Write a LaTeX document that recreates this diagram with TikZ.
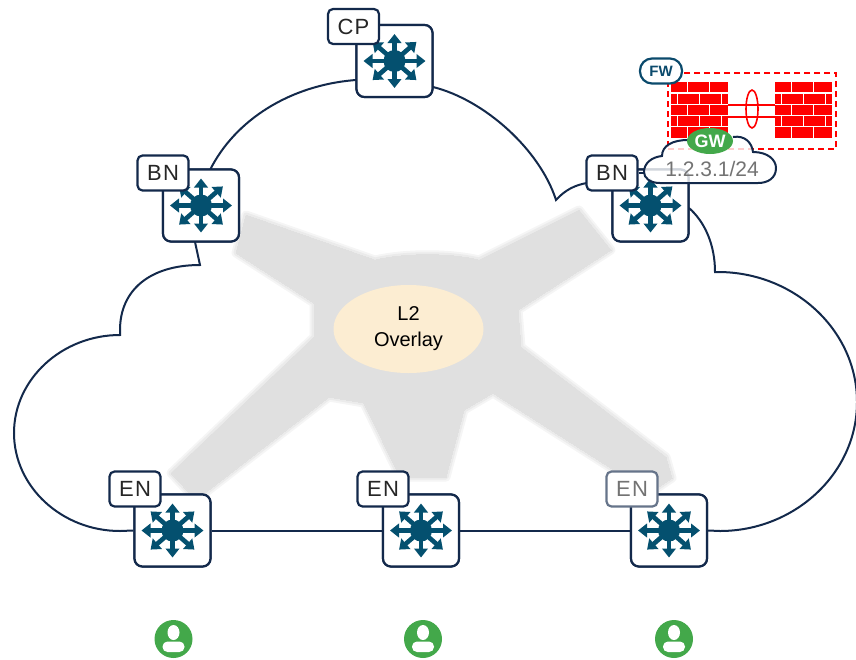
\documentclass[tikz,border=0pt]{standalone}
\usepackage{fontspec}
\setmainfont{Liberation Sans}
\newfontfamily\tagfont[LetterSpace=6]{Liberation Sans}
\usetikzlibrary{arrows.meta,shapes.geometric}

\definecolor{navy}{HTML}{13294B}
\definecolor{switchblue}{HTML}{04506F}
\definecolor{fwteal}{HTML}{0B4A6C}
\definecolor{gwgreen}{HTML}{43A84A}
\definecolor{l2fill}{HTML}{FCEDD2}
\definecolor{fwred}{HTML}{FF0000}

\begin{document}
\begin{tikzpicture}[x=1pt, y=-1pt,
    cloudline/.style={draw=navy, line width=2pt},
    switchbox/.style={draw=navy, line width=2.2pt, fill=white,
                      rounded corners=8pt, minimum width=76pt,
                      minimum height=72pt, inner sep=0pt},
    tagbox/.style={draw=navy, line width=2.2pt, fill=white,
                   rounded corners=5pt, minimum width=51pt,
                   minimum height=35pt, inner sep=0pt, text=black!85,
                   font=\tagfont\fontsize{22}{24}\selectfont},
    spoke/.style={draw=switchblue, line width=4.6pt,
                  -{Triangle[length=9pt,width=13.5pt]}},
    l2bubble/.style={ellipse, fill=l2fill, minimum width=150pt,
                     minimum height=88pt, align=center,
                     font=\fontsize{20}{26}\selectfont},
    wall/.style={fill=fwred, minimum width=57pt, minimum height=56pt,
                 inner sep=0pt},
    mortar/.style={draw=white, line width=1.3pt},
    fwlink/.style={draw=fwred, line width=1.6pt},
    fwzone/.style={draw=fwred, line width=2.2pt,
                   dash pattern=on 6pt off 4pt,
                   minimum width=168pt, minimum height=76pt},
    fwtag/.style={draw=fwteal, line width=2.2pt, fill=white,
                  rounded corners=12pt, minimum width=42pt,
                  minimum height=25pt, inner sep=0pt, text=fwteal,
                  font=\bfseries\fontsize{15}{15}\selectfont},
    gwtag/.style={ellipse, fill=gwgreen, minimum width=46pt,
                  minimum height=26pt, inner sep=0pt, text=white,
                  font=\bfseries\fontsize{18}{18}\selectfont},
    addr/.style={minimum width=136pt, inner sep=0pt, text=black!55,
                 font=\fontsize{21}{21}\selectfont},
    user/.style={circle, fill=gwgreen, minimum size=38pt, inner sep=0pt}
  ]
    \useasboundingbox (0,0) rectangle (856,659);

    % overlay star behind the fabric, soft edge
    \foreach \w/\c in {9/8,5/16,0/24}
      \filldraw[draw=gray!\c, fill=gray!\c, line width=\w, line join=round]
        (246,215) -- (375,260) .. controls (405,253) and (450,253) .. (479,260)
        -- (579,210) -- (611,250) -- (518,310) -- (521,347) -- (666,457)
        -- (672,478) -- (650,493) -- (493,393) -- (464,410) -- (446,477)
        -- (400,477) -- (364,403) -- (329,397) -- (196,500) -- (171,473)
        -- (314,337) -- (314,303) -- (236,253) -- cycle;

    \node[l2bubble] (l2) at (408.5,329) {L2\\Overlay};

    % fabric cloud
    \node[switchbox] (cp)  at (394.5,61)  {};
    \node[switchbox] (bnl) at (201,205.5) {};
    \node[switchbox] (bnr) at (650.5,205.5) {};
    \node[switchbox] (enl) at (172.5,530.5) {};
    \node[switchbox] (enm) at (421,530.5) {};
    \node[switchbox] (enr) at (669,530.5) {};

    \draw[cloudline] (enl.west) -- (120,531)
      .. controls (62,531) and (14,487) .. (14,433)
      .. controls (14,379) and (62,335) .. (120,335) -- (120,330)
      .. controls (120,290) and (150,265) .. (200,265) -- (195,242);
    \draw[cloudline] (210,170) .. controls (235,120) and (290,85) .. (356,80);
    \draw[cloudline] (433,87) .. controls (485,100) and (540,150) .. (556,200)
      .. controls (565,190) and (575,185) .. (587,183);
    \draw[cloudline] (689,208) .. controls (705,222) and (715,245) .. (715,272)
      -- (718,272) .. controls (794,272) and (857,330) .. (857,402)
      .. controls (857,474) and (794,531) .. (720,531) -- (enr.east);
    \draw[cloudline] (enl.east) -- (enm.west);
    \draw[cloudline] (enm.east) -- (enr.west);

    % boxes again on top of the outline ends
    \foreach \s in {cp,bnl,bnr,enl,enm,enr}
      \node[switchbox] at (\s.center) {};
    \foreach \s in {cp,bnl,bnr,enl,enm,enr}{
      \foreach \a in {0,45,...,315}
        \draw[spoke] (\s.center) -- ++(\a:31 and 27);
      \fill[switchblue] (\s.center) circle (11);
    }

    \node[tagbox] (cptag)  at (353.5,26.5) {CP};
    \node[tagbox] (bnltag) at (163,173)   {BN};
    \node[tagbox] (bnrtag) at (612,173)   {BN};
    \node[tagbox] (enltag) at (135,489)   {EN};
    \node[tagbox] (enmtag) at (383,489)   {EN};
    \node[tagbox, draw=navy!65, text=black!55] (enrtag) at (632,489) {EN};

    % firewall pair
    \node[fwzone] (fwarea) at (752,111) {};
    \node[wall] (fwl) at (699.5,110) {};
    \node[wall] (fwr) at (803.5,110) {};
    \foreach \w in {fwl,fwr}{
      \foreach \r in {1,2,3,4}
        \draw[mortar] ([shift={(0,\r*11.2)}]\w.north west) -- ++(57,0);
      \foreach \r/\j in {0/17,0/39,1/7,1/29,1/51,2/17,2/39,3/7,3/29,3/51,4/17,4/39}
        \draw[mortar] ([shift={(\j,\r*11.2)}]\w.north west) -- ++(0,11.2);
    }
    \draw[fwlink] ([shift={(0,-5)}]fwl.east) -- ([shift={(0,-5)}]fwr.west);
    \draw[fwlink] ([shift={(0,7)}]fwl.east) -- ([shift={(0,7)}]fwr.west);
    \draw[fwlink] ([shift={(0,-2)}]fwarea.center) ellipse (6 and 19);
    \node[fwtag] (fw) at (661,71) {FW};

    % gateway callout
    \filldraw[cloudline, fill=white, fill opacity=0.8]
      (733,137) .. controls (745,135) and (752,143) .. (753,152)
      .. controls (768,152) and (776,160) .. (776,168)
      .. controls (776,178) and (768,183) .. (758,183) -- (660,183)
      .. controls (650,183) and (644,178) .. (644,172)
      .. controls (644,163) and (652,157) .. (662,156)
      .. controls (662,146) and (672,140) .. (688,140);
    \node[addr] (gwaddr) at (712,169) {1.2.3.1/24};
    \draw[cloudline] (bnrtag.east) -- (bnrtag.east -| gwaddr.west);
    \node[gwtag] (gw) at (710,141) {GW};

    % endpoints
    \node[user] (u1) at (173.5,639) {};
    \node[user] (u2) at (423,639) {};
    \node[user] (u3) at (674,639) {};
    \foreach \u in {u1,u2,u3}{
      \fill[white] ([shift={(0,-6.5)}]\u.center) ellipse (6 and 7.5);
      \fill[white, rounded corners=5pt] ([shift={(-11,2.5)}]\u.center)
        rectangle ([shift={(11,13)}]\u.center);
    }
  \end{tikzpicture}
\end{document}
